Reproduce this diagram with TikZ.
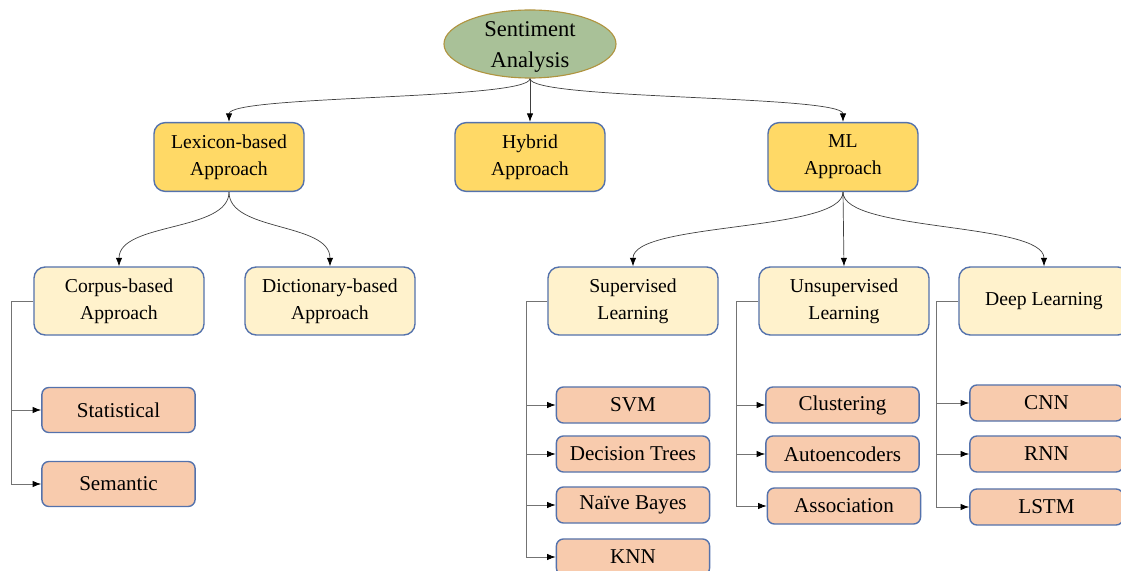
\documentclass[tikz,border=0pt]{standalone}
\usepackage{fontspec}
\setmainfont{Liberation Serif}
\usetikzlibrary{arrows.meta,shapes.geometric}
\definecolor{rootfill}{RGB}{169,193,152}
\definecolor{rootedge}{RGB}{176,148,64}
\definecolor{topfill}{RGB}{255,217,102}
\definecolor{midfill}{RGB}{255,242,204}
\definecolor{leaffill}{RGB}{248,203,173}
\definecolor{boxedge}{RGB}{84,114,172}
\begin{document}
\begin{tikzpicture}[x=0.025cm,y=-0.025cm,
   root/.style={ellipse,draw=rootedge,line width=0.8pt,fill=rootfill,minimum width=4.3cm,minimum height=1.7cm},
   roottext/.style={align=center,font=\fontsize{16}{21.5}\selectfont},
   topbox/.style={draw=boxedge,line width=1pt,fill=topfill,rounded corners=8pt,minimum width=3.75cm,minimum height=1.72cm,align=center,font=\fontsize{14}{19}\selectfont},
   midbox/.style={topbox,fill=midfill,minimum width=4.25cm,minimum height=1.7cm},
   leafbox/.style={draw=boxedge,line width=1pt,fill=leaffill,rounded corners=5pt,minimum width=3.83cm,minimum height=0.9cm,font=\fontsize{15}{18}\selectfont},
   curve/.style={black!75,line width=0.5pt,-{Latex[length=6pt,width=4.5pt,color=black]}},
   branch/.style={black!55,line width=0.6pt,-{Latex[length=6pt,width=4.5pt,color=black]}}]
   \useasboundingbox (0,0) rectangle (1121,571);
   \clip (0,0) rectangle (1121,571);
   \node [root] (sa) at (530,44) {};
   \node [roottext] (satext) at (530,47) {Sentiment\\Analysis};
   \node [topbox] (lex) at (229,157) {Lexicon-based\\Approach};
   \node [topbox] (hyb) at (530,157) {Hybrid\\Approach};
   \node [topbox] (ml) at (843,157) {ML\\Approach};
   \node [midbox] (corp) at (119,301) {Corpus-based\\Approach};
   \node [midbox] (dict) at (330,301) {Dictionary-based\\Approach};
   \node [midbox] (sup) at (633,301) {Supervised\\Learning};
   \node [midbox] (uns) at (844,301) {Unsupervised\\Learning};
   \node [midbox] (deep) at (1044,301) {Deep Learning};
   \node [leafbox,minimum height=1.125cm] (stat) at (118.5,410) {Statistical};
   \node [leafbox,minimum height=1.125cm] (sem) at (118.5,484) {Semantic};
   \node [leafbox] (svm) at (633,405) {SVM};
   \node [leafbox] (dt) at (633,454) {Decision Trees};
   \node [leafbox] (nb) at (633,505) {Naïve Bayes};
   \node [leafbox] (knn) at (633,557) {KNN};
   \node [leafbox] (clu) at (842.5,405) {Clustering};
   \node [leafbox] (auto) at (842.5,454) {Autoencoders};
   \node [leafbox] (asso) at (844,506) {Association};
   \node [leafbox] (cnn) at (1046.5,403) {CNN};
   \node [leafbox] (rnn) at (1046.5,454) {RNN};
   \node [leafbox] (lstm) at (1046.5,507) {LSTM};
   \draw [curve] (sa.south) .. controls (530,100) and (229,95) .. (lex.north);
   \draw [curve] (sa.south) -- (hyb.north);
   \draw [curve] (sa.south) .. controls (530,100) and (843,95) .. (ml.north);
   \draw [curve] (lex.south) .. controls (229,232) and (119,222) .. (corp.north);
   \draw [curve] (lex.south) .. controls (229,232) and (330,222) .. (dict.north);
   \draw [curve] (ml.south) .. controls (843,232) and (633,222) .. (sup.north);
   \draw [curve] (ml.south) -- (uns.north);
   \draw [curve] (ml.south) .. controls (843,232) and (1044,222) .. (deep.north);
   \foreach \leaf in {stat,sem}
      \draw [branch] (corp.west) -- ++(-22,0) |- (\leaf.west);
   \foreach \leaf in {svm,dt,nb,knn}
      \draw [branch] (sup.west) -- ++(-21,0) |- (\leaf.west);
   \foreach \leaf in {clu,auto,asso}
      \draw [branch] (uns.west) -- ++(-22,0) |- (\leaf.west);
   \foreach \leaf in {cnn,rnn,lstm}
      \draw [branch] (deep.west) -- ++(-22,0) |- (\leaf.west);
\end{tikzpicture}
\end{document}
